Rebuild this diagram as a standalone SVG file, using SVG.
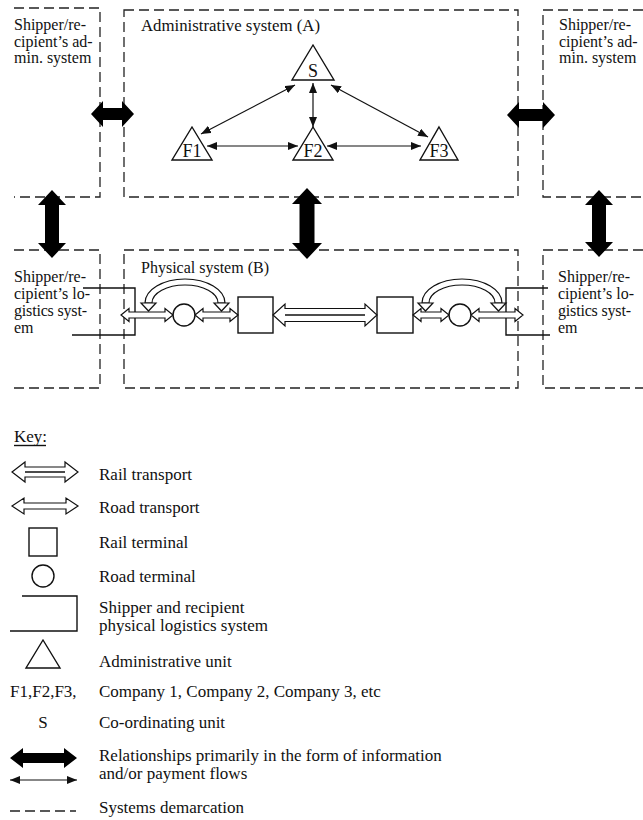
<svg xmlns="http://www.w3.org/2000/svg" width="643" height="820" viewBox="0 0 643 820">
<style>
text{font-family:"Liberation Serif","Times New Roman",serif;font-size:16px;fill:#111}
.key text{font-size:17px}
.title{font-size:16.8px}
.tri{font-size:18px}
.dash{fill:none;stroke:#222;stroke-width:1.3;stroke-dasharray:10 5}
.ln{fill:none;stroke:#111;stroke-width:1.4}
.sh{fill:#fff;stroke:#111;stroke-width:1.4;stroke-linejoin:miter}
.thick{fill:#000;stroke:none}
.thin{fill:none;stroke:#111;stroke-width:1.2;marker-start:url(#ah);marker-end:url(#ah)}
.hollow{fill:#fff;stroke:#111;stroke-width:1.2}
</style>
<defs>
<marker id="ah" markerUnits="userSpaceOnUse" markerWidth="10" markerHeight="8" refX="10" refY="4" orient="auto-start-reverse"><path d="M0,0 L10,4 L0,8 Z" fill="#111"/></marker>
</defs>

<g id="demarcation">
<path class="dash" d="M14,8 H100 V197 H14"/>
<path class="dash" d="M124,10 H518 V197 H124 Z"/>
<path class="dash" d="M643,10 H543 V197 H643"/>
<path class="dash" d="M14,250 H100 V388 H14"/>
<path class="dash" d="M124,250 H518 V388 H124 Z"/>
<path class="dash" d="M643,250 H543 V388 H643"/>
</g>

<g id="admin-left">
<text x="14" y="30">Shipper/re-</text>
<text x="14" y="47">cipient’s ad-</text>
<text x="14" y="63">min. system</text>
</g>
<g id="admin-right">
<text x="559" y="30">Shipper/re-</text>
<text x="559" y="47">cipient’s ad-</text>
<text x="559" y="63">min. system</text>
</g>
<g id="admin-A">
<text class="title" x="141" y="31">Administrative system (A)</text>
</g>
<g id="node-S"><path class="sh" d="M313,45 L334,80 L292,80 Z"/><text class="tri" x="313" y="77" text-anchor="middle">S</text></g>
<g id="node-F1"><path class="sh" d="M192,127 L212,160 L172,160 Z"/><text class="tri" x="192" y="157" text-anchor="middle">F1</text></g>
<g id="node-F2"><path class="sh" d="M313,127 L333,160 L293,160 Z"/><text class="tri" x="313" y="157" text-anchor="middle">F2</text></g>
<g id="node-F3"><path class="sh" d="M439,127 L458,160 L420,160 Z"/><text class="tri" x="439" y="157" text-anchor="middle">F3</text></g>

<g id="phys-left">
<text x="14" y="282">Shipper/re-</text>
<text x="14" y="299">cipient’s lo-</text>
<text x="14" y="316" textLength="73" lengthAdjust="spacing">gistics syst-</text>
<text x="14" y="333">em</text>
<path class="ln" d="M83,288 H135 V335 H72"/>
</g>
<g id="phys-right">
<text x="558" y="282">Shipper/re-</text>
<text x="558" y="299">cipient’s lo-</text>
<text x="558" y="316" textLength="73" lengthAdjust="spacing">gistics syst-</text>
<text x="558" y="333">em</text>
<path class="ln" d="M548,288 H506 V335 H550"/>
</g>
<g id="phys-B">
<text x="141" y="273">Physical system (B)</text>
</g>
<g id="road-terminal-1"><circle class="sh" cx="184" cy="315" r="11"/></g>
<g id="rail-terminal-1"><rect class="sh" x="238" y="297" width="35" height="36"/></g>
<g id="rail-terminal-2"><rect class="sh" x="377" y="297" width="36" height="36"/></g>
<g id="road-terminal-2"><circle class="sh" cx="460" cy="315" r="11"/></g>

<g id="connectors">
<path class="thick" d="M91,114 L103,101 L103,108 L122,108 L122,101 L134,114 L122,127 L122,120 L103,120 L103,127 Z"/>
<path class="thick" d="M507,115 L519,102 L519,109 L543,109 L543,102 L555,115 L543,128 L543,121 L519,121 L519,128 Z"/>
<path class="thick" d="M52,190 L66,205 L59,205 L59,243 L66,243 L52,258 L38,243 L45,243 L45,205 L38,205 Z"/>
<path class="thick" d="M307,188 L322,204 L314.5,204 L314.5,243 L322,243 L307,259 L292,243 L299.5,243 L299.5,204 L292,204 Z"/>
<path class="thick" d="M599,190 L613,205 L606,205 L606,242 L613,242 L599,257 L585,242 L592,242 L592,205 L585,205 Z"/>
<line class="thin" x1="201" y1="134" x2="295" y2="85"/>
<line class="thin" x1="313" y1="127" x2="313" y2="83"/>
<line class="thin" x1="331" y1="85" x2="428" y2="137"/>
<line class="thin" x1="207" y1="146" x2="298" y2="146"/>
<line class="thin" x1="327" y1="146" x2="421" y2="146"/>
<path class="hollow" d="M121,315 L129,308.5 L129,312 L165,312 L165,308.5 L173,315 L165,321.5 L165,318 L129,318 L129,321.5 Z"/>
<path class="hollow" d="M195,315 L203,308.5 L203,312 L230,312 L230,308.5 L238,315 L230,321.5 L230,318 L203,318 L203,321.5 Z"/>
<path class="hollow" d="M413,315 L421,308.5 L421,312 L441,312 L441,308.5 L449,315 L441,321.5 L441,318 L421,318 L421,321.5 Z"/>
<path class="hollow" d="M471,315 L479,308.5 L479,312 L515,312 L515,308.5 L523,315 L515,321.5 L515,318 L479,318 L479,321.5 Z"/>
<path class="hollow" d="M273,315 L285,304 L285,308.5 L365,308.5 L365,304 L377,315 L365,326 L365,321.5 L285,321.5 L285,326 Z"/>
<line class="ln" x1="285" y1="315" x2="365" y2="315" stroke-width="1"/>
<path class="hollow" d="M145,303 A40,24 0 0 1 225,303 L218,303 A33,18 0 0 0 152,303 Z"/>
<path class="hollow" d="M141,303 L156,303 L148.5,311 Z"/>
<path class="hollow" d="M214,303 L229,303 L221.5,311 Z"/>
<path class="hollow" d="M422,303 A40,24 0 0 1 502,303 L495,303 A33,18 0 0 0 429,303 Z"/>
<path class="hollow" d="M418,303 L433,303 L425.5,311 Z"/>
<path class="hollow" d="M491,303 L506,303 L498.5,311 Z"/>
</g>

<g id="key" class="key">
<text x="14" y="442">Key:</text>
<line class="ln" x1="14" y1="445.5" x2="46" y2="445.5" stroke-width="1"/>
<path class="hollow" d="M12,472 L25,462 L25,467 L65,467 L65,462 L78,472 L65,482 L65,477 L25,477 L25,482 Z"/>
<line class="ln" x1="25" y1="472" x2="65" y2="472" stroke-width="1"/>
<text x="99" y="480">Rail transport</text>
<path class="hollow" d="M12,506 L24,498 L24,503 L66,503 L66,498 L78,506 L66,514 L66,509 L24,509 L24,514 Z"/>
<text x="99" y="513">Road transport</text>
<rect class="sh" x="29" y="528" width="28" height="28"/>
<text x="99" y="548">Rail terminal</text>
<circle class="sh" cx="43" cy="576" r="11"/>
<text x="99" y="582">Road terminal</text>
<path class="ln" d="M22,596 H77 V631 H10"/>
<text x="99" y="613">Shipper and recipient</text>
<text x="99" y="631">physical logistics system</text>
<path class="sh" d="M43,640 L60,668 L26,668 Z"/>
<text x="99" y="667">Administrative unit</text>
<text x="10" y="697">F1,F2,F3,</text>
<text x="99" y="697">Company 1, Company 2, Company 3, etc</text>
<text x="43" y="728" text-anchor="middle">S</text>
<text x="99" y="728">Co-ordinating unit</text>
<path class="thick" d="M10,758 L23,748 L23,753 L64,753 L64,748 L77,758 L64,768 L64,763 L23,763 L23,768 Z"/>
<line class="thin" x1="10" y1="780" x2="77" y2="780"/>
<text x="99" y="761">Relationships primarily in the form of information</text>
<text x="99" y="779">and/or payment flows</text>
<path class="dash" d="M10,811 H76"/>
<text x="99" y="813">Systems demarcation</text>
</g>
</svg>
